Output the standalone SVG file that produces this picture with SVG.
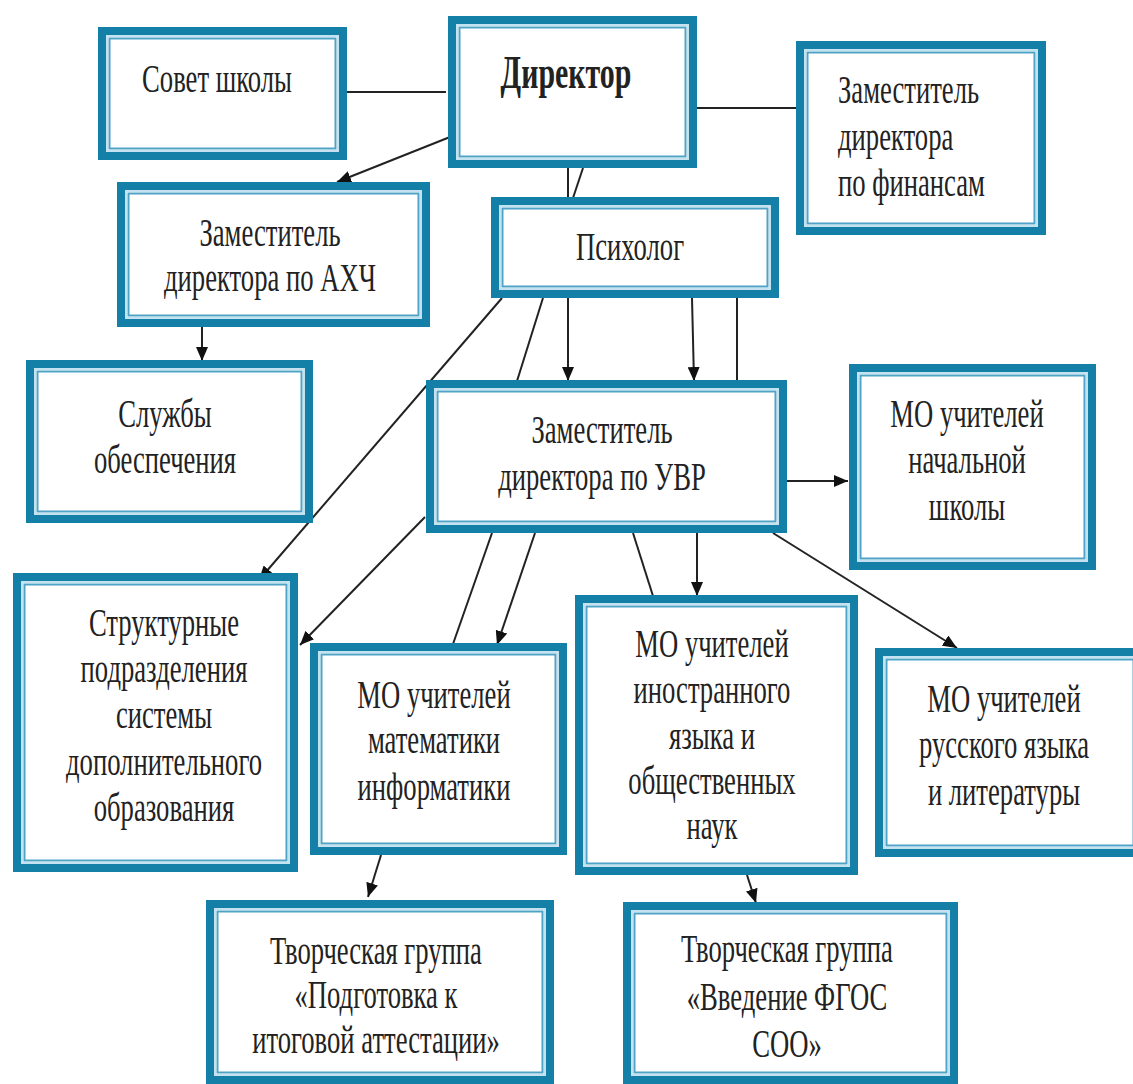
<svg xmlns="http://www.w3.org/2000/svg" width="1133" height="1084" viewBox="0 0 1133 1084">
<style>
.o{fill:#ffffff;stroke:#1480a7;stroke-width:8}
.m{fill:none;stroke:#c4e2ef;stroke-width:2}
.i{fill:none;stroke:#4ea3c6;stroke-width:2}
.t{font-family:"Liberation Serif","Times New Roman",serif;font-size:41px;fill:#222222;text-anchor:middle}
.b{font-weight:bold;font-size:46px}
.l{text-anchor:start}
.c{fill:none;stroke:#222222;stroke-width:2}
</style>
<defs>
<marker id="ah" viewBox="0 0 10 10" refX="10" refY="5" markerWidth="7" markerHeight="7" markerUnits="userSpaceOnUse" orient="auto">
<path d="M0,0 L10,5 L0,10 z" fill="#111111"/>
</marker>
<marker id="a" viewBox="0 0 14 12" refX="14" refY="6" markerWidth="14" markerHeight="12" markerUnits="userSpaceOnUse" orient="auto">
<path d="M0,0 L14,6 L0,12 z" fill="#111111"/>
</marker>
</defs>
<rect width="1133" height="1084" fill="#ffffff"/>

<g id="connectors">
<line class="c" x1="345" y1="92" x2="446" y2="92"/>
<line class="c" x1="697" y1="108" x2="797" y2="108"/>
<line class="c" x1="450" y1="137" x2="337" y2="182" marker-end="url(#a)"/>
<line class="c" x1="568" y1="168" x2="568" y2="198"/>
<line class="c" x1="583" y1="168" x2="573" y2="198"/>
<line class="c" x1="202" y1="327" x2="202" y2="361" marker-end="url(#a)"/>
<line class="c" x1="502" y1="298" x2="259" y2="580" marker-end="url(#a)"/>
<line class="c" x1="543" y1="298" x2="517" y2="381"/>
<line class="c" x1="568" y1="298" x2="568" y2="381" marker-end="url(#a)"/>
<line class="c" x1="692" y1="298" x2="694" y2="381" marker-end="url(#a)"/>
<line class="c" x1="737" y1="298" x2="737" y2="381"/>
<line class="c" x1="787" y1="481" x2="848" y2="481" marker-end="url(#a)"/>
<line class="c" x1="425" y1="517" x2="300" y2="645" marker-end="url(#a)"/>
<line class="c" x1="492" y1="533" x2="453" y2="644"/>
<line class="c" x1="535" y1="533" x2="497" y2="645" marker-end="url(#a)"/>
<line class="c" x1="633" y1="533" x2="653" y2="596"/>
<line class="c" x1="697" y1="533" x2="697" y2="596" marker-end="url(#a)"/>
<line class="c" x1="773" y1="533" x2="957" y2="648" marker-end="url(#a)"/>
<line class="c" x1="381" y1="855" x2="368" y2="897" marker-end="url(#a)"/>
<line class="c" x1="747" y1="875" x2="756" y2="903" marker-end="url(#a)"/>
</g>

<g id="sovet">
<rect class="o" x="102" y="31" width="241" height="125"/>
<rect class="m" x="107" y="36" width="231" height="115"/>
<rect class="i" x="109.5" y="38.5" width="226" height="110"/>
<text class="t" transform="translate(217,0) scale(0.65,1)" x="0" y="92">Совет школы</text>
</g>

<g id="director">
<rect class="o" x="452" y="20" width="241" height="144"/>
<rect class="m" x="457" y="25" width="231" height="134"/>
<rect class="i" x="459.5" y="27.5" width="226" height="129"/>
<text class="t b" transform="translate(566,0) scale(0.65,1)" x="0" y="88">Директор</text>
</g>

<g id="finance">
<rect class="o" x="800" y="45" width="242" height="186"/>
<rect class="m" x="805" y="50" width="232" height="176"/>
<rect class="i" x="807.5" y="52.5" width="227" height="171"/>
<text class="t l" transform="translate(838,0) scale(0.65,1)"><tspan x="0" y="103">Заместитель</tspan><tspan x="0" y="150">директора</tspan><tspan x="0" y="196">по финансам</tspan></text>
</g>

<g id="ahch">
<rect class="o" x="121" y="186" width="305" height="137"/>
<rect class="m" x="126" y="191" width="295" height="127"/>
<rect class="i" x="128.5" y="193.5" width="290" height="122"/>
<text class="t" transform="translate(270,0) scale(0.65,1)"><tspan x="0" y="246">Заместитель</tspan><tspan x="0" y="291">директора по АХЧ</tspan></text>
</g>

<g id="psych">
<rect class="o" x="495" y="201" width="280" height="93"/>
<rect class="m" x="500" y="206" width="270" height="83"/>
<rect class="i" x="502.5" y="208.5" width="265" height="78"/>
<text class="t" transform="translate(630,0) scale(0.65,1)" x="0" y="260">Психолог</text>
</g>

<g id="sluzhby">
<rect class="o" x="30" y="364" width="279" height="155"/>
<rect class="m" x="35" y="369" width="269" height="145"/>
<rect class="i" x="37.5" y="371.5" width="264" height="140"/>
<text class="t" transform="translate(165,0) scale(0.65,1)"><tspan x="0" y="427">Службы</tspan><tspan x="0" y="473">обеспечения</tspan></text>
</g>

<g id="uvr">
<rect class="o" x="430" y="384" width="353" height="145"/>
<rect class="m" x="435" y="389" width="343" height="135"/>
<rect class="i" x="437.5" y="391.5" width="338" height="130"/>
<text class="t" transform="translate(602,0) scale(0.65,1)"><tspan x="0" y="443">Заместитель</tspan><tspan x="0" y="490">директора по УВР</tspan></text>
</g>

<g id="mo-nach">
<rect class="o" x="853" y="368" width="239" height="198"/>
<rect class="m" x="858" y="373" width="229" height="188"/>
<rect class="i" x="860.5" y="375.5" width="224" height="183"/>
<text class="t" transform="translate(967,0) scale(0.65,1)"><tspan x="0" y="427">МО учителей</tspan><tspan x="0" y="473">начальной</tspan><tspan x="0" y="520">школы</tspan></text>
</g>

<g id="struct">
<rect class="o" x="17" y="577" width="277" height="291"/>
<rect class="m" x="22" y="582" width="267" height="281"/>
<rect class="i" x="24.5" y="584.5" width="262" height="276"/>
<text class="t" transform="translate(164,0) scale(0.65,1)"><tspan x="0" y="636">Структурные</tspan><tspan x="0" y="682">подразделения</tspan><tspan x="0" y="728">системы</tspan><tspan x="0" y="775">дополнительного</tspan><tspan x="0" y="821">образования</tspan></text>
</g>

<g id="mo-mat">
<rect class="o" x="314" y="647" width="249" height="204"/>
<rect class="m" x="319" y="652" width="239" height="194"/>
<rect class="i" x="321.5" y="654.5" width="234" height="189"/>
<text class="t" transform="translate(434,0) scale(0.65,1)"><tspan x="0" y="708">МО учителей</tspan><tspan x="0" y="753">математики</tspan><tspan x="0" y="800">информатики</tspan></text>
</g>

<g id="mo-inostr">
<rect class="o" x="579" y="599" width="275" height="272"/>
<rect class="m" x="584" y="604" width="265" height="262"/>
<rect class="i" x="586.5" y="606.5" width="260" height="257"/>
<text class="t" transform="translate(712,0) scale(0.65,1)"><tspan x="0" y="657">МО учителей</tspan><tspan x="0" y="703">иностранного</tspan><tspan x="0" y="749">языка и</tspan><tspan x="0" y="794">общественных</tspan><tspan x="0" y="839">наук</tspan></text>
</g>

<g id="mo-rus">
<rect class="o" x="879" y="652" width="262" height="201"/>
<rect class="m" x="884" y="657" width="252" height="191"/>
<rect class="i" x="886.5" y="659.5" width="247" height="186"/>
<text class="t" transform="translate(1004,0) scale(0.65,1)"><tspan x="0" y="712">МО учителей</tspan><tspan x="0" y="758">русского языка</tspan><tspan x="0" y="805">и литературы</tspan></text>
</g>

<g id="tvorch-1">
<rect class="o" x="210" y="904" width="340" height="176"/>
<rect class="m" x="215" y="909" width="330" height="166"/>
<rect class="i" x="217.5" y="911.5" width="325" height="161"/>
<text class="t" transform="translate(376,0) scale(0.65,1)"><tspan x="0" y="964">Творческая группа</tspan><tspan x="0" y="1008">«Подготовка к</tspan><tspan x="0" y="1053">итоговой аттестации»</tspan></text>
</g>

<g id="tvorch-2">
<rect class="o" x="627" y="906" width="327" height="174"/>
<rect class="m" x="632" y="911" width="317" height="164"/>
<rect class="i" x="634.5" y="913.5" width="312" height="159"/>
<text class="t" transform="translate(787,0) scale(0.65,1)"><tspan x="0" y="962">Творческая группа</tspan><tspan x="0" y="1010">«Введение ФГОС</tspan><tspan x="0" y="1057">СОО»</tspan></text>
</g>
</svg>
